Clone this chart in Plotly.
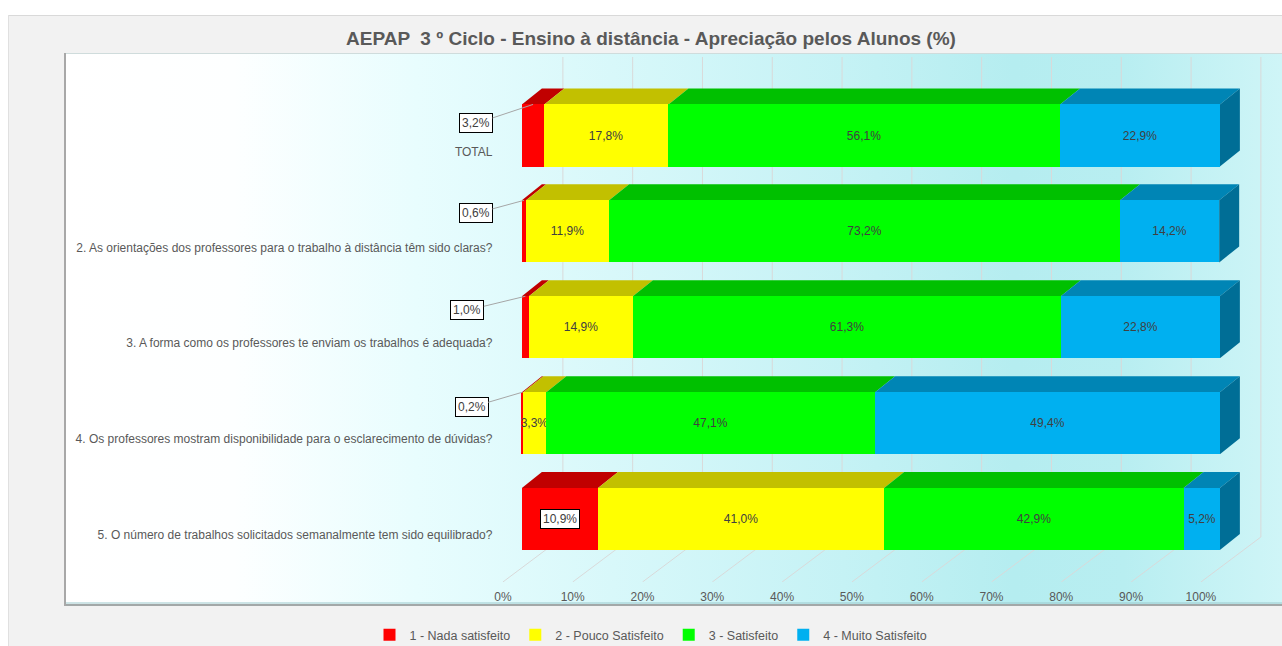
import base64
import plotly.graph_objects as go

# ---------------- data ----------------
categories = [
    "TOTAL",
    "2. As orientações dos professores para o trabalho à distância têm sido claras?",
    "3. A forma como os professores te enviam os trabalhos é adequada?",
    "4. Os professores mostram disponibilidade para o esclarecimento de dúvidas?",
    "5. O número de trabalhos solicitados semanalmente tem sido equilibrado?",
]
series_names = ["1 - Nada satisfeito", "2 - Pouco Satisfeito", "3 - Satisfeito", "4 - Muito Satisfeito"]
nada = [3.2, 0.6, 1.0, 0.2, 10.9]
pouco = [17.8, 11.9, 14.9, 3.3, 41.0]
satisfeito = [56.1, 73.2, 61.3, 47.1, 42.9]
muito = [22.9, 14.2, 22.8, 49.4, 5.2]
x_ticks = [0, 10, 20, 30, 40, 50, 60, 70, 80, 90, 100]
x_tick_labels = ["0%", "10%", "20%", "30%", "40%", "50%", "60%", "70%", "80%", "90%", "100%"]
title_text = "AEPAP  3 º Ciclo - Ensino à distância - Apreciação pelos Alunos (%)"

# ---------------- styles ----------------
front_colors = ["#ff0000", "#ffff00", "#00ff00", "#00b0f0"]
top_colors = ["#c00000", "#c2c000", "#00c000", "#0085b5"]
side_color = "#006e96"
grid_color = "#d9d9d9"
FONT = "Liberation Sans, Arial, sans-serif"

W, H = 1282, 646
ML, MR, MT, MB = 64, 0, 53, 64
XR = [-65.6, 108.9]
YR = [4.656, -0.860]          # reversed axis (TOTAL on top)
BAR_W = 0.647

plot_w = W - ML - MR
plot_h = H - MT - MB
ppx = plot_w / (XR[1] - XR[0])   # pixels per x unit
ppy = plot_h / (YR[0] - YR[1])   # pixels per y unit

DX = 20 / ppx      # bar depth (x)
DY = 16 / ppy      # bar depth (y)
WALL_DX = 41 / ppx
FLOOR_DX = -19 / ppx
WALL_BOTTOM = YR[0] - 45 / ppy
WALL_TOP = YR[1] + 4 / ppy


def px2x(p):
    return (p - ML) / plot_w


def py2y(p):
    return (H - MB - p) / plot_h


def fmt(v):
    return f"{v:.1f}".replace(".", ",") + "%"


series = [nada, pouco, satisfeito, muito]
ypos = list(range(len(categories)))

fig = go.Figure()

for k, (name, vals) in enumerate(zip(series_names, series)):
    fig.add_trace(go.Bar(
        y=ypos, x=vals, orientation="h", name=name, width=BAR_W,
        marker=dict(color=front_colors[k], line=dict(width=0)),
        texttemplate="" if k == 0 else "%{x:.1f}%",
        textposition="inside", insidetextanchor="middle", textangle=0,
        constraintext="none", cliponaxis=False,
        textfont=dict(size=12, color="#404040", family=FONT),
        hoverinfo="name+x",
    ))

shapes = []
# back-wall gridlines and floor lines
for t in x_ticks:
    shapes.append(dict(type="line", xref="x", yref="y", layer="below",
                       x0=t + WALL_DX, x1=t + WALL_DX, y0=WALL_TOP, y1=WALL_BOTTOM,
                       line=dict(color=grid_color, width=1)))
    shapes.append(dict(type="line", xref="x", yref="y", layer="below",
                       x0=t + FLOOR_DX, y0=YR[0], x1=t + WALL_DX, y1=WALL_BOTTOM,
                       line=dict(color=grid_color, width=1)))

# 3D top faces and right side face
for i in ypos:
    yt = i - BAR_W / 2
    yb = i + BAR_W / 2
    start = 0.0
    for k, vals in enumerate(series):
        end = start + vals[i]
        path = (f"M{start},{yt} L{end},{yt} L{end + DX},{yt - DY} "
                f"L{start + DX},{yt - DY} Z")
        shapes.append(dict(type="path", xref="x", yref="y", layer="below", path=path,
                           fillcolor=top_colors[k], line=dict(width=0)))
        start = end
    path = (f"M{start},{yt} L{start + DX},{yt - DY} L{start + DX},{yb - DY} "
            f"L{start},{yb} Z")
    shapes.append(dict(type="path", xref="x", yref="y", layer="below", path=path,
                       fillcolor=side_color, line=dict(width=0)))

# frame decorations
shapes += [
    dict(type="rect", xref="paper", yref="paper", layer="below",
         x0=px2x(0), x1=px2x(W), y0=py2y(0), y1=py2y(15),
         fillcolor="white", line=dict(width=0)),
    dict(type="rect", xref="paper", yref="paper", layer="below",
         x0=px2x(0), x1=px2x(8), y0=py2y(0), y1=py2y(H),
         fillcolor="white", line=dict(width=0)),
    dict(type="line", xref="paper", yref="paper", layer="below",
         x0=px2x(8), x1=px2x(W), y0=py2y(15.5), y1=py2y(15.5),
         line=dict(color="#d9d9d9", width=1)),
    dict(type="line", xref="paper", yref="paper", layer="below",
         x0=px2x(8.5), x1=px2x(8.5), y0=py2y(15), y1=py2y(H),
         line=dict(color="#e0e0e0", width=1)),
    dict(type="line", xref="paper", yref="paper", layer="below",
         x0=px2x(64), x1=px2x(W), y0=py2y(53.5), y1=py2y(53.5),
         line=dict(color="#cfdcdc", width=1)),
    dict(type="line", xref="paper", yref="paper", layer="below",
         x0=px2x(64), x1=px2x(W), y0=py2y(603), y1=py2y(603),
         line=dict(color="#9cc8cc", width=1)),
    dict(type="line", xref="paper", yref="paper", layer="below",
         x0=px2x(64), x1=px2x(W), y0=py2y(605), y1=py2y(605),
         line=dict(color="#a3a8a8", width=2)),
    dict(type="line", xref="paper", yref="paper", layer="below",
         x0=px2x(65), x1=px2x(65), y0=py2y(53), y1=py2y(606),
         line=dict(color="#a8a8a8", width=2)),
]

# panel gradient background
svg = (
    "<svg xmlns='http://www.w3.org/2000/svg' width='1218' height='552' preserveAspectRatio='none'>"
    "<defs><linearGradient id='g' x1='0' x2='1' y1='0' y2='0'>"
    "<stop offset='0' stop-color='#ffffff'/>"
    "<stop offset='0.14' stop-color='#fdffff'/>"
    "<stop offset='0.29' stop-color='#e8fdfe'/>"
    "<stop offset='0.45' stop-color='#d8f8fa'/>"
    "<stop offset='0.64' stop-color='#c5f2f5'/>"
    "<stop offset='0.78' stop-color='#b5edf0'/>"
    "<stop offset='0.87' stop-color='#b8eef1'/>"
    "<stop offset='1' stop-color='#cff5f7'/>"
    "</linearGradient></defs>"
    "<rect x='0' y='0' width='1218' height='552' fill='url(#g)'/></svg>"
)
svg_uri = "data:image/svg+xml;base64," + base64.b64encode(svg.encode("utf-8")).decode("ascii")

annotations = []
# small "Nada satisfeito" labels (boxed, with leader line)
label_offsets = [(-57, 19), (-48, 13), (-58, 14), (-51, 15), None]
for i, v in enumerate(nada):
    off = label_offsets[i]
    common = dict(xref="x", yref="y", text=fmt(v),
                  font=dict(size=12, color="#404040", family=FONT),
                  bgcolor="white", bordercolor="#000000", borderwidth=1, borderpad=2)
    if off is not None:
        annotations.append(dict(x=v / 2, y=i - BAR_W / 2, showarrow=True, arrowhead=0,
                                arrowwidth=1, arrowcolor="#a6a6a6", ax=off[0], ay=off[1],
                                **common))
    else:
        annotations.append(dict(x=v / 2, y=i, showarrow=False, **common))

fig.update_layout(
    width=W, height=H,
    margin=dict(l=ML, r=MR, t=MT, b=MB, pad=0, autoexpand=False),
    paper_bgcolor="#f2f2f2", plot_bgcolor="rgba(0,0,0,0)",
    barmode="stack", bargap=0,
    separators=",.",
    uniformtext=dict(minsize=12, mode="show"),
    font=dict(family=FONT, color="#595959"),
    title=dict(text=title_text, x=651 / W, xref="container", xanchor="center",
               y=1 - 38 / H, yref="container", yanchor="middle",
               font=dict(size=19, color="#595959", family=FONT, weight="bold")),
    xaxis=dict(range=XR, showgrid=False, zeroline=False, showline=False,
               tickvals=x_ticks, ticktext=x_tick_labels, ticks="outside",
               ticklen=4, tickcolor="rgba(0,0,0,0)", ticklabelshift=-19,
               tickfont=dict(size=12, color="#595959", family=FONT), fixedrange=True),
    yaxis=dict(range=YR, showgrid=False, zeroline=False, showline=False,
               tickvals=ypos, ticktext=categories, anchor="free",
               position=(0 - XR[0]) / (XR[1] - XR[0]),
               ticks="outside", ticklen=27, tickcolor="rgba(0,0,0,0)",
               ticklabelshift=-16,
               tickfont=dict(size=12, color="#595959", family=FONT), fixedrange=True),
    legend=dict(orientation="h", x=px2x(651), xanchor="center", y=py2y(635),
                yanchor="middle", bgcolor="rgba(0,0,0,0)", itemwidth=30,
                font=dict(size=12.5, color="#595959", family=FONT), traceorder="normal"),
    shapes=shapes,
    annotations=annotations,
    images=[dict(source=svg_uri, xref="paper", yref="paper", x=0, y=1,
                 sizex=1, sizey=(605 - 53) / plot_h, sizing="stretch",
                 xanchor="left", yanchor="top", layer="below")],
)

fig.write_html("out.html", config={"displayModeBar": False},
               post_script="document.body.style.margin='0';document.body.style.overflow='hidden';")
